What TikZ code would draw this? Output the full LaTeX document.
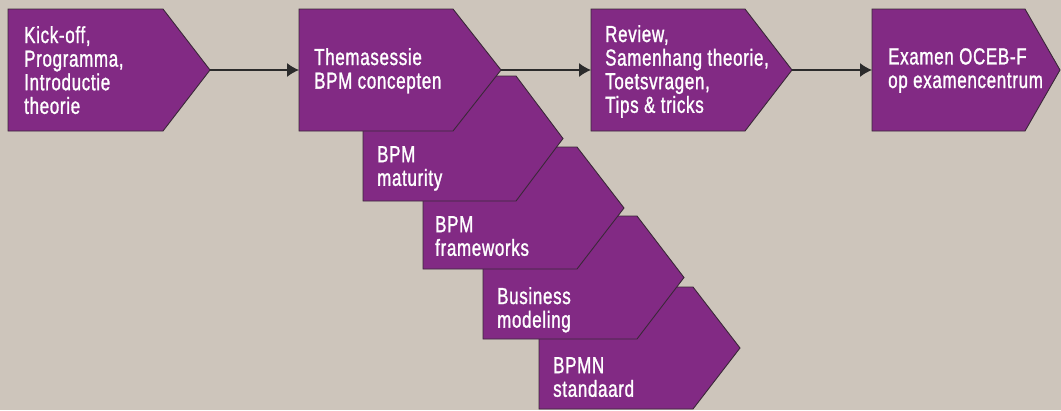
\documentclass[tikz,border=0pt]{standalone}
\usepackage{fontspec}
\setmainfont[FakeStretch=0.73,FakeBold=1.2,LetterSpace=3]{Liberation Sans}
\usetikzlibrary{arrows.meta}
\definecolor{stagepurple}{HTML}{822A84}
\definecolor{canvas}{HTML}{CDC5BB}
\definecolor{stageedge}{HTML}{3A2838}
\definecolor{linkgray}{HTML}{2B2B2B}
\tikzset{
 stagebox/.style={fill=stagepurple,draw=stageedge,line width=0.9pt,line join=miter},
 stagetext/.style={anchor=north west,inner sep=0pt,align=left,text=white,font=\fontsize{23.2}{23.6}\selectfont},
 link/.style={draw=linkgray,line width=1.3pt,-{Latex[length=12pt,width=14pt]}}
}

\begin{document}
\begin{tikzpicture}[x=1pt,y=-1pt]
 \fill[canvas](0,0) rectangle (1061,410);
 \useasboundingbox (0,0) rectangle (1061,410);
 \draw[stagebox](539,287)--(693,287)--(740,348)--(693,409)--(539,409)--cycle;
 \draw[stagebox](483,216)--(637,216)--(684,277.5)--(637,339)--(483,339)--cycle;
 \draw[stagebox](423,147)--(577,147)--(624,208)--(577,269)--(423,269)--cycle;
 \draw[stagebox](363,76)--(516,76)--(563,138.5)--(516,201)--(363,201)--cycle;
 \draw[stagebox](8,9)--(163,9)--(210,70)--(163,131)--(8,131)--cycle;
 \draw[stagebox](299,9)--(453,9)--(501,70)--(453,131)--(299,131)--cycle;
 \draw[stagebox](591,9)--(745,9)--(792,70)--(745,131)--(591,131)--cycle;
 \draw[stagebox](872,9)--(1025,9)--(1060,70)--(1025,131)--(872,131)--cycle;
 \coordinate (kickoff-out) at (210,70);
 \coordinate (thema-in) at (299,70);
 \coordinate (thema-out) at (501,70);
 \coordinate (review-in) at (591,70);
 \coordinate (review-out) at (792,70);
 \coordinate (examen-in) at (872,70);
 \node[stagetext] (kickoff) at (24,26) {Kick-off,\\Programma,\\Introductie\\theorie};
 \node[stagetext] (thema) at (314,48) {Themasessie\\BPM concepten};
 \node[stagetext] (review) at (605,25) {Review,\\Samenhang theorie,\\Toetsvragen,\\Tips \& tricks};
 \node[stagetext] (examen) at (888,48) {Examen OCEB-F\\op examencentrum};
 \node[stagetext] (maturity) at (377,146) {BPM\\maturity};
 \node[stagetext] (frameworks) at (435,216) {BPM\\frameworks};
 \node[stagetext] (modeling) at (497,287) {Business\\modeling};
 \node[stagetext] (bpmn) at (553,357) {BPMN\\standaard};
 \draw[link](kickoff-out)--(thema-in);
 \draw[link](thema-out)--(review-in);
 \draw[link](review-out)--(examen-in);
\end{tikzpicture}
\end{document}
